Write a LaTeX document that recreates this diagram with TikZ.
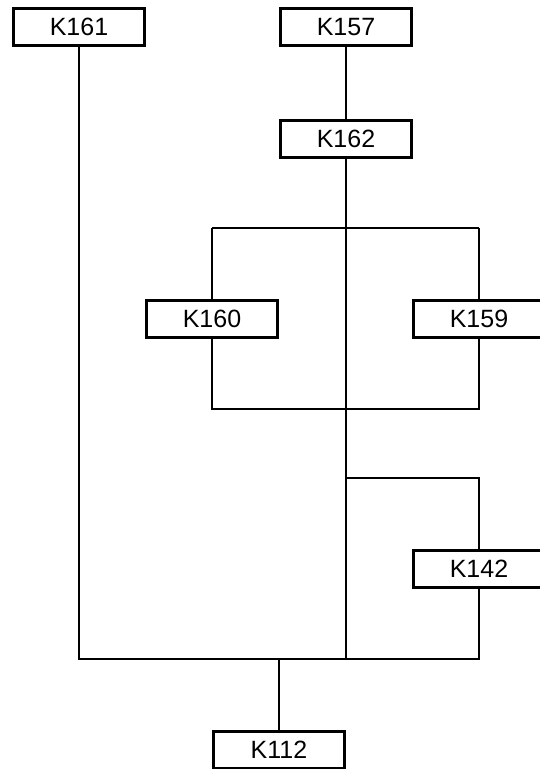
\documentclass[tikz,border=0pt]{standalone}
\usepackage{fontspec}
\setmainfont{Liberation Sans}
\begin{document}
\begin{tikzpicture}[x=1pt,y=-1pt,
  kbox/.style={draw=black,line width=3pt,fill=white,minimum width=131pt,minimum height=37pt,inner sep=0pt,font=\fontsize{25}{28}\selectfont},
  conn/.style={draw=black,line width=1.7pt}]
\useasboundingbox (0,0) rectangle (539,769);
\coordinate (tl) at (212,228);
\coordinate (tr) at (479,228);
\coordinate (bl) at (212,409);
\coordinate (br) at (479,409);
\coordinate (br2) at (346,478);
\coordinate (tr2) at (479,478);
\coordinate (bot) at (346,659);
\coordinate (botl) at (79,659);
\coordinate (botr) at (479,659);
\coordinate (botm) at (279,659);

\node[kbox] (K161) at (79,27) {K161};
\node[kbox] (K157) at (346,27) {K157};
\node[kbox] (K162) at (346,139) {K162};
\node[kbox] (K160) at (212,319) {K160};
\node[kbox] (K159) at (479,319) {K159};
\node[kbox] (K142) at (479,569) {K142};
\node[kbox] (K112) at (279,750) {K112};

\draw[conn] (K157.south) -- (K162.north);
\draw[conn] (K162.south) -- (bot);
\draw[conn] (K161.south) -- (botl) -- (botr) -- (K142.south);
\draw[conn] (tl) -- (tr);
\draw[conn] (tl) -- (K160.north);
\draw[conn] (K160.south) -- (bl) -- (br) -- (K159.south);
\draw[conn] (tr) -- (K159.north);
\draw[conn] (br2) -- (tr2) -- (K142.north);
\draw[conn] (botm) -- (K112.north);
\end{tikzpicture}
\end{document}
